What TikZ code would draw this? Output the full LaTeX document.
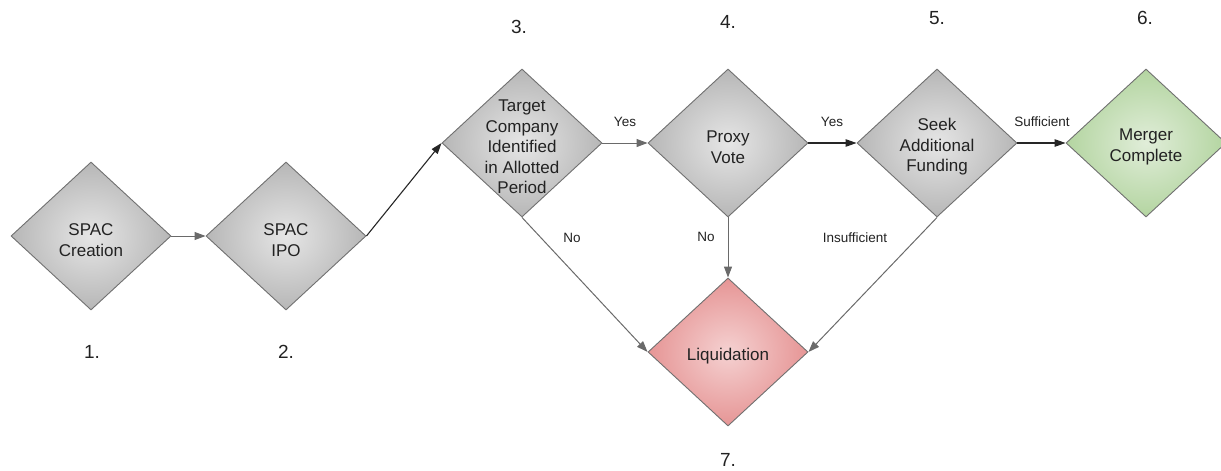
\documentclass[tikz,border=0pt]{standalone}
\usepackage{fontspec}
\setmainfont{Liberation Sans}
\usetikzlibrary{shapes.geometric,arrows.meta}
\pgfdeclareradialshading{graysh}{\pgfpoint{0bp}{0bp}}{rgb(0bp)=(0.90,0.90,0.90); rgb(34bp)=(0.65,0.65,0.65); rgb(50bp)=(0.65,0.65,0.65)}
\pgfdeclareradialshading{greensh}{\pgfpoint{0bp}{0bp}}{rgb(0bp)=(0.88,0.93,0.85); rgb(34bp)=(0.64,0.80,0.55); rgb(50bp)=(0.64,0.80,0.55)}
\pgfdeclareradialshading{redsh}{\pgfpoint{0bp}{0bp}}{rgb(0bp)=(0.96,0.82,0.82); rgb(34bp)=(0.88,0.50,0.50); rgb(50bp)=(0.88,0.50,0.50)}
\definecolor{bordergray}{HTML}{707070}
\definecolor{edgegray}{HTML}{6A6A6A}
\definecolor{txt}{HTML}{222222}
\begin{document}
\begin{tikzpicture}[x=1pt,y=-1pt,
  diam/.style={diamond, draw=bordergray, line width=0.9pt, inner sep=0pt,
    minimum width=160pt, minimum height=148pt, shading=graysh},
  dtext/.style={align=center, text=txt, yshift=-4pt, font=\fontsize{17}{20.5}\selectfont},
  lab/.style={text=txt, font=\fontsize{13.5}{15}\selectfont},
  num/.style={text=txt, font=\fontsize{19}{22}\selectfont},
  garrow/.style={draw=edgegray, line width=1pt, -{Triangle[length=11pt,width=8pt]}},
  barrow/.style={draw=black!85, line width=1.1pt, -{Triangle[length=11pt,width=7.5pt]}}
]
\useasboundingbox (0,0) rectangle (1221,471);

\node[diam] (n1) at (91,236) {};
\node[dtext] (t1) at (n1.center) {SPAC\\Creation};
\node[diam] (n2) at (286,236) {};
\node[dtext] (t2) at (n2.center) {SPAC\\IPO};
\node[diam] (n3) at (522,143) {};
\node[dtext] (t3) at (n3.center) {Target\\Company\\Identified\\in Allotted\\Period};
\node[diam] (n4) at (728,143) {};
\node[dtext] (t4) at (n4.center) {Proxy\\Vote};
\node[diam] (n5) at (937,143) {};
\node[dtext] (t5) at (n5.center) {Seek\\Additional\\Funding};
\node[diam, shading=greensh] (n6) at (1146,143) {};
\node[dtext] (t6) at (n6.center) {Merger\\Complete};
\node[diam, shading=redsh] (n7) at (728,352) {};
\node[dtext] (t7) at (n7.center) {Liquidation};

\node[num] (l1) at (92,352) {1.};
\node[num] (l2) at (286,352) {2.};
\node[num] (l3) at (519,27) {3.};
\node[num] (l4) at (728,22) {4.};
\node[num] (l5) at (937,18) {5.};
\node[num] (l6) at (1145,18) {6.};
\node[num] (l7) at (728,460) {7.};

\draw[garrow] (n1.east) -- (n2.west);
\draw[barrow] (n2.east) -- (n3.west);
\draw[garrow] (n3.east) -- (n4.west);
\draw[barrow] (n4.east) -- (n5.west);
\draw[barrow] (n5.east) -- (n6.west);
\draw[garrow] (n3.south) -- (n7.west);
\draw[garrow] (n4.south) -- (n7.north);
\draw[garrow] (n5.south) -- (n7.east);

\node[lab] (y1) at (625,122) {Yes};
\node[lab] (y2) at (832,122) {Yes};
\node[lab] (s1) at (1042,122) {Sufficient};
\node[lab] (no1) at (572,238) {No};
\node[lab] (no2) at (706,237) {No};
\node[lab] (ins) at (855,238) {Insufficient};
\end{tikzpicture}
\end{document}
